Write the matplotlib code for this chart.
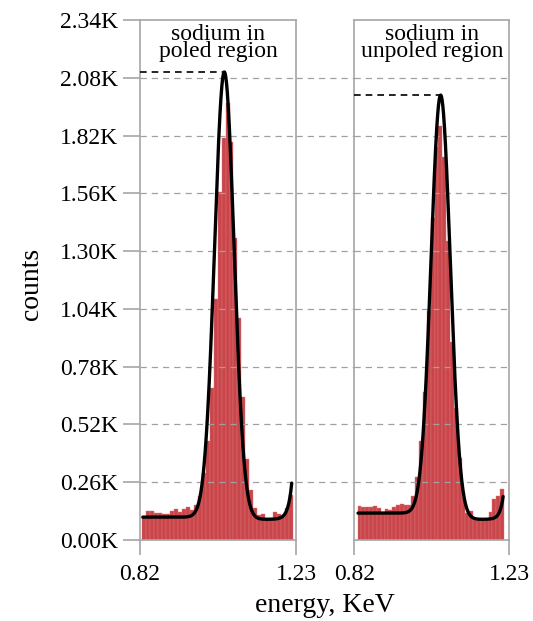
import numpy as np
import matplotlib
matplotlib.use('Agg')
import matplotlib.pyplot as plt
from matplotlib.lines import Line2D
from math import erf

plt.rcParams['font.family'] = ['Liberation Serif', 'DejaVu Serif']

# histogram counts (38 bins per panel)
poled_counts = [105, 132, 130, 120, 120, 115, 118, 132, 138, 124, 140, 148, 135, 157,
                198, 303, 447, 682, 1086, 1568, 1807, 1968, 1793, 1357, 1000, 642, 364,
                225, 142, 112, 118, 98, 98, 124, 118, 108, 142, 202]
unpoled_counts = [154, 150, 148, 147, 153, 142, 128, 138, 135, 150, 157, 160, 157, 156,
                  200, 282, 447, 664, 1032, 1447, 1767, 1865, 1725, 1345, 890, 592, 371,
                  195, 120, 132, 90, 93, 90, 90, 128, 183, 196, 228]
poled_range = (0.8265, 1.2215)
unpoled_range = (0.828, 1.2155)

# fit parameters: centre, sigma, amplitude, background left, step, tail amp, tail end, tail tau
poled_fit = dict(x0=1.0416, sigma=0.0257, amp=2008, bg=103, step=10,
                 tail=163, x_lo=0.8274, x_hi=1.2187, tau=0.0095)
unpoled_fit = dict(x0=1.048, sigma=0.0255, amp=1895, bg=121, step=28,
                   tail=103, x_lo=0.8294, x_hi=1.2131, tau=0.0085)

titles = ['sodium in\npoled region', 'sodium in\nunpoled region']
y_ticks = [0, 260, 520, 780, 1040, 1300, 1560, 1820, 2080, 2340]
x_ticks = [0.82, 1.23]

BAR_COLOR = '#c9454a'
FRAME = '#a6a6a6'
GRID = '#a0a0a0'


def fit_curve(p, n=600):
    """Gaussian peak on a step background with an exponential tail at the high end."""
    x = np.linspace(p['x_lo'], p['x_hi'], n)
    gauss = p['amp'] * np.exp(-0.5 * ((x - p['x0']) / p['sigma']) ** 2)
    step = np.array([0.5 * (1 + erf((v - p['x0']) / (p['sigma'] * np.sqrt(2)))) for v in x])
    bg = p['bg'] - p['step'] * step + p['tail'] * np.exp((x - p['x_hi']) / p['tau'])
    return x, gauss + bg


def draw_panel(ax, counts, rng, fit, title, show_y):
    edges = np.linspace(rng[0], rng[1], len(counts) + 1)
    centers = (edges[:-1] + edges[1:]) / 2
    width = edges[1] - edges[0]
    ax.bar(centers, counts, width=width, color=BAR_COLOR, edgecolor='#d9797d',
           linewidth=0.3, zorder=1)

    for y in y_ticks[1:-1]:
        ax.axhline(y, color=GRID, lw=0.9, ls=(0, (5, 4)), zorder=2)

    x, y = fit_curve(fit)
    ax.plot(x, y, color='black', lw=2.4, zorder=4, solid_capstyle='round')
    i = np.argmax(y)
    ax.plot([0.82, x[i]], [y[i], y[i]], color='black', lw=1.2, ls=(0, (4, 3)), zorder=4)

    ax.set_xlim(0.82, 1.23)
    ax.set_ylim(0, 2340)
    ax.set_xticks(x_ticks)
    ax.set_xticklabels([f'{t:.2f}' for t in x_ticks])
    ax.set_facecolor('none')
    for s in ax.spines.values():
        s.set_color(FRAME)
        s.set_linewidth(1.2)
    ax.tick_params(axis='x', length=11, width=1.2, color=FRAME, labelsize=17, pad=6)
    if show_y:
        ax.set_yticks(y_ticks)
        ax.set_yticklabels([f'{t / 1000:.2f}K' for t in y_ticks])
        ax.tick_params(axis='y', length=12, width=1.2, color=FRAME, labelsize=17, pad=4)
    else:
        ax.set_yticks([])
    ax.text(0.5, 0.993, title, transform=ax.transAxes, ha='center', va='top',
            fontsize=17, linespacing=0.78)


def main():
    fig = plt.figure(figsize=(5.33, 6.21), dpi=100)
    ax1 = fig.add_axes([0.2627, 0.1304, 0.2927, 0.8374])
    ax2 = fig.add_axes([0.6651, 0.1304, 0.2908, 0.8374])

    draw_panel(ax1, poled_counts, poled_range, poled_fit, titles[0], True)
    draw_panel(ax2, unpoled_counts, unpoled_range, unpoled_fit, titles[1], False)

    # grid lines continue through the gap between the panels
    x_a = 0.2627 + 0.2927
    x_b = 0.6651
    for y in y_ticks[1:-1]:
        fy = 0.1304 + 0.8374 * y / 2340
        fig.add_artist(Line2D([x_a, x_b], [fy, fy], color=GRID, lw=0.9,
                              ls=(0, (5, 4)), transform=fig.transFigure))

    fig.text(0.61, 0.015, 'energy, KeV', ha='center', va='baseline', fontsize=20)
    fig.text(0.06, 0.543, 'counts', ha='center', va='center', rotation=90, fontsize=20)

    fig.savefig('out.png', dpi=100)


if __name__ == '__main__':
    main()
